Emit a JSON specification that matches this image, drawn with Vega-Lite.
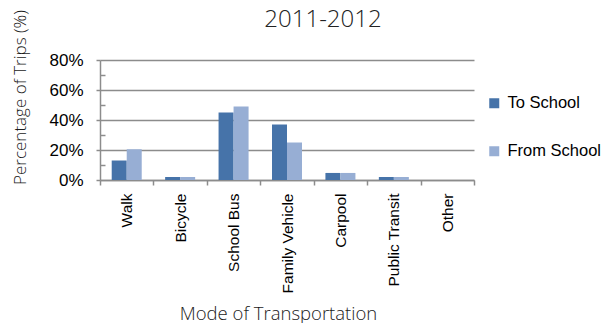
{
  "$schema": "https://vega.github.io/schema/vega-lite/v6.json",
  "width": 374,
  "height": 120,
  "autosize": "none",
  "padding": {"left": 100, "top": 60, "right": 137, "bottom": 143},
  "background": "white",
  "title": {
    "text": "2011-2012",
    "font": "Open Sans",
    "fontSize": 24,
    "fontWeight": 300,
    "color": "#222222",
    "anchor": "middle",
    "frame": "group",
    "dx": 36,
    "offset": 0,
    "dy": 22
  },
  "data": {
    "values": [
      {"mode": "Walk", "direction": "To School", "value": 13},
      {"mode": "Walk", "direction": "From School", "value": 20.5},
      {"mode": "Bicycle", "direction": "To School", "value": 2},
      {"mode": "Bicycle", "direction": "From School", "value": 2},
      {"mode": "School Bus", "direction": "To School", "value": 45},
      {"mode": "School Bus", "direction": "From School", "value": 49},
      {"mode": "Family Vehicle", "direction": "To School", "value": 37},
      {"mode": "Family Vehicle", "direction": "From School", "value": 25},
      {"mode": "Carpool", "direction": "To School", "value": 4.7},
      {"mode": "Carpool", "direction": "From School", "value": 4.7},
      {"mode": "Public Transit", "direction": "To School", "value": 2},
      {"mode": "Public Transit", "direction": "From School", "value": 2},
      {"mode": "Other", "direction": "To School", "value": 0},
      {"mode": "Other", "direction": "From School", "value": 0}
    ]
  },
  "config": {
    "view": {"stroke": null},
    "axis": {"labelFont": "Liberation Sans", "titleFont": "Open Sans", "titleFontWeight": 300, "titleColor": "#1a1a1a", "labelColor": "#000000"}
  },
  "layer": [
    {
      "mark": {"type": "bar"},
      "encoding": {
        "x": {
          "field": "mode",
          "type": "nominal",
          "sort": null,
          "scale": {"paddingInner": 0, "paddingOuter": 0},
          "axis": {
            "title": "Mode of Transportation",
            "titleFontSize": 18.5,
            "titleX": 178,
            "titleY": 124,
            "titleBaseline": "top",
            "labelAngle": -90,
            "labelAlign": "right",
            "labelBaseline": "middle",
            "labelFontSize": 15.5,
            "labelPadding": 8,
            "tickBand": "extent",
            "tickSize": 5,
            "tickColor": "#8c8c8c",
            "tickWidth": 1.5,
            "domainColor": "#8c8c8c",
            "domainWidth": 1.5,
            "grid": false
          }
        },
        "xOffset": {
          "field": "direction",
          "type": "nominal",
          "sort": ["To School", "From School"],
          "scale": {"paddingOuter": 0.78, "paddingInner": 0}
        },
        "y": {
          "field": "value",
          "type": "quantitative",
          "scale": {"domain": [0, 80], "nice": false},
          "axis": {
            "title": "Percentage of Trips (%)",
            "titleFontSize": 17,
            "titleAngle": -90,
            "titleX": -80,
            "titleY": 37,
            "titleAlign": "center",
            "titleBaseline": "middle",
            "values": [0, 20, 40, 60, 80],
            "labelExpr": "datum.value + '%'",
            "labelFontSize": 17,
            "labelPadding": 13,
            "tickSize": 4,
            "tickColor": "#8c8c8c",
            "tickWidth": 1.5,
            "domainColor": "#8c8c8c",
            "domainWidth": 1.5,
            "grid": true,
            "gridColor": "#8c8c8c",
            "gridWidth": 1.5
          }
        },
        "color": {
          "field": "direction",
          "type": "nominal",
          "sort": ["To School", "From School"],
          "scale": {"domain": ["To School", "From School"], "range": ["#4673A9", "#97AED4"]},
          "legend": {
            "title": null,
            "orient": "none",
            "legendX": 386,
            "legendY": 35,
            "padding": 0,
            "symbolType": "square",
            "symbolSize": 100,
            "symbolStrokeWidth": 0,
            "labelFont": "Liberation Sans",
            "labelFontSize": 16.5,
            "labelColor": "#000000",
            "labelOffset": 5,
            "rowPadding": 31
          }
        }
      }
    },
    {
      "mark": {"type": "bar", "opacity": 0},
      "encoding": {
        "x": {"field": "mode", "type": "nominal", "sort": null},
        "xOffset": {"field": "direction", "type": "nominal", "sort": ["To School", "From School"]},
        "y": {
          "field": "value",
          "type": "quantitative",
          "axis": {
            "title": null,
            "orient": "left",
            "values": [10, 30, 50, 70],
            "labels": false,
            "domain": false,
            "grid": false,
            "offset": -5,
            "tickSize": 5,
            "tickColor": "#8c8c8c",
            "tickWidth": 1.5
          }
        }
      }
    }
  ],
  "resolve": {"axis": {"y": "independent"}}
}
